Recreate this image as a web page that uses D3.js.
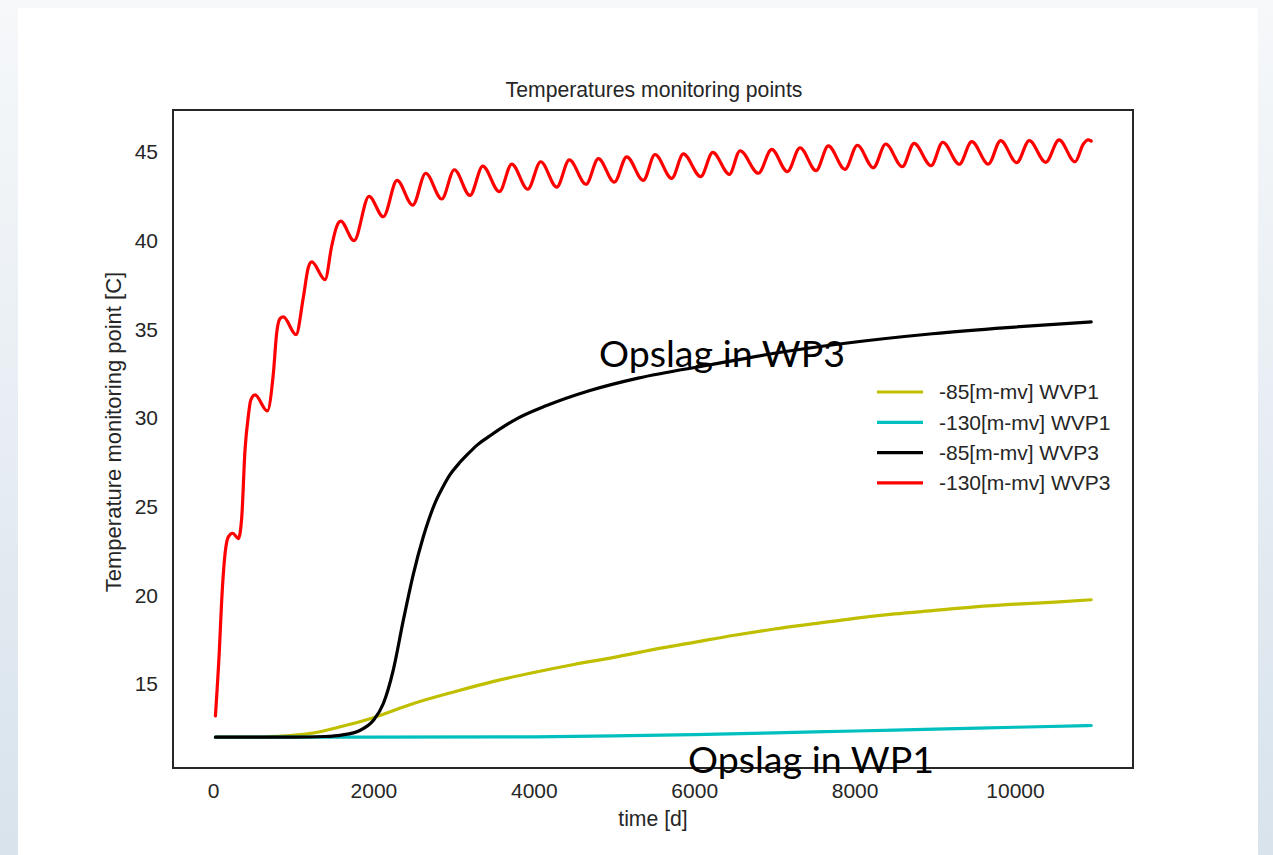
<!DOCTYPE html>
<html>
  <head>
    <title>Temperatures monitoring points</title>
    <style type="text/css">
      html, body {
        margin: 0;
        padding: 0;
      }
      svg text {
        font-family: "Liberation Sans", Arial, sans-serif;
        fill: #262626;
      }
      .tick text {
        font-size: 21px;
      }
      .series {
        fill: none;
        stroke-width: 3.2;
        stroke-linejoin: round;
        stroke-linecap: round;
      }
      .note {
        font-family: Lato, "Open Sans", sans-serif;
        font-size: 36px;
        fill: #000;
      }
    </style>
  </head>
  <body>
    <svg id="screen" width="1273" height="855" viewBox="0 0 1273 855">
      <defs>
        <linearGradient id="bg" x1="0" y1="0" x2="0" y2="1">
          <stop offset="0" stop-color="#f6f8fa" />
          <stop offset="1" stop-color="#d8e3ec" />
        </linearGradient>
      </defs>
      <rect width="1273" height="855" fill="url(#bg)" />
      <rect x="18" y="8" width="1240" height="847" fill="#fff" />
    </svg>

    <script type="text/javascript" src="https://d3js.org/d3.v7.min.js"></script>
    <script type="text/javascript">

    // legend order, matplotlib short colours y, c, k, r
    var seriesNames  = ['-85[m-mv] WVP1', '-130[m-mv] WVP1', '-85[m-mv] WVP3', '-130[m-mv] WVP3'];
    var seriesColors = ['#bfbf00', '#00bfbf', '#000000', '#ff0000'];

    var xTicks = [0, 2000, 4000, 6000, 8000, 10000];
    var yTicks = [15, 20, 25, 30, 35, 40, 45];

    // [day, temperature]
    var wvp1_85 = [[30,12.0],[500,12.0],[800,12.05],[1200,12.2],[1600,12.6],[2000,13.1],[2500,13.9],
                   [3000,14.55],[3500,15.15],[4000,15.65],[4500,16.1],[5000,16.5],[5500,16.95],
                   [6000,17.35],[6500,17.75],[7000,18.1],[7500,18.4],[8000,18.7],[8500,18.95],
                   [9000,19.15],[9500,19.35],[10000,19.5],[10500,19.62],[10950,19.75]];

    var wvp1_130 = [[30,12.0],[2000,12.0],[4000,12.02],[5000,12.07],[6000,12.14],[7000,12.24],
                    [8000,12.35],[9000,12.45],[10000,12.56],[10950,12.66]];

    var wvp3_85 = [[30,12.0],[1000,12.0],[1400,12.04],[1600,12.12],[1830,12.38],[2000,12.95],
                   [2124,13.9],[2248,15.8],[2373,18.6],[2498,21.2],[2622,23.3],[2768,25.2],
                   [2860,26.05],[2955,26.8],[3060,27.4],[3163,27.9],[3300,28.5],[3454,29.0],
                   [3786,29.95],[4160,30.7],[4700,31.55],[5300,32.25],[6200,33.0],[7000,33.65],
                   [7860,34.2],[8970,34.75],[9900,35.1],[10950,35.42]];

    var wvp3_130 = [[30,13.2],[79,16.9],[108,19.7],[150,22.35],[191,23.3],[245,23.5],[316,23.2],
                    [358,24.4],[399,28.2],[440,30.1],[470,31.0],[524,31.3],[677,30.4],[752,32.5],
                    [794,34.8],[835,35.6],[877,35.7],[1035,34.7],[1126,36.8],[1189,38.5],[1231,38.8],
                    [1397,37.8],[1480,39.7],[1542,40.8],[1592,41.1],[1758,40.0],[1945,42.5],
                    [2123,41.35],[2295,43.4],[2490,42.0],[2652,43.8],[2852,42.35],[3009,44.0],
                    [3204,42.55],[3363,44.2],[3570,42.76],[3725,44.32],[3924,42.9],[4086,44.45],
                    [4286,43.02],[4443,44.55],[4651,43.18],[4805,44.63],[5004,43.3],[5158,44.73],
                    [5365,43.4],[5511,44.86],[5719,43.51],[5864,44.89],[6081,43.61],[6231,44.98],
                    [6438,43.74],[6571,45.07],[6800,43.8],[6966,45.15],[7161,43.89],[7319,45.24],
                    [7519,43.95],[7672,45.34],[7880,44.02],[8034,45.38],[8233,44.11],[8388,45.45],
                    [8595,44.17],[8741,45.49],[8953,44.23],[9099,45.55],[9305,44.31],[9460,45.58],
                    [9667,44.32],[9821,45.64],[10021,44.4],[10178,45.64],[10383,44.42],[10549,45.68],
                    [10748,44.45],[10852,45.45],[10910,45.68],[10950,45.62]];

    var seriesData = [wvp1_85, wvp1_130, wvp3_85, wvp3_130];

    var plot = { left: 173, top: 110, right: 1133, bottom: 768 };

    var x = d3.scaleLinear().domain([-499, 11471]).range([plot.left, plot.right]),
        y = d3.scaleLinear().domain([10.263, 47.368]).range([plot.bottom, plot.top]);

    var screen = d3.select('#screen');

    // axes, seaborn "white" style: no tick marks, no grid
    screen.append('g')
          .attr('transform', 'translate(0,' + plot.bottom + ')')
          .call(d3.axisBottom(x).tickValues(xTicks).tickFormat(d3.format('d')).tickSize(0).tickPadding(15))
          .call(function(g) { g.select('.domain').remove(); });

    screen.append('g')
          .attr('transform', 'translate(' + plot.left + ',0)')
          .call(d3.axisLeft(y).tickValues(yTicks).tickSize(0).tickPadding(15))
          .call(function(g) { g.select('.domain').remove(); });

    screen.selectAll('.tick text')
          .attr('fill', '#262626')
          .style('font-family', '"Liberation Sans", Arial, sans-serif');

    var line = d3.line()
                 .x(function(d) { return x(d[0]); })
                 .y(function(d) { return y(d[1]); })
                 .curve(d3.curveMonotoneX);

    screen.selectAll('.series')
          .data(seriesData)
          .enter()
          .append('path')
          .attr('class', 'series')
          .attr('stroke', function(d, i) { return seriesColors[i]; })
          .attr('d', line);

    // frame
    screen.append('rect')
          .attr('x', plot.left)
          .attr('y', plot.top)
          .attr('width', plot.right - plot.left)
          .attr('height', plot.bottom - plot.top)
          .attr('fill', 'none')
          .attr('stroke', '#262626')
          .attr('stroke-width', 2);

    screen.append('text')
          .attr('x', (plot.left + plot.right) / 2 + 1)
          .attr('y', 97)
          .attr('text-anchor', 'middle')
          .style('font-size', '21.2px')
          .text('Temperatures monitoring points');

    screen.append('text')
          .attr('x', (plot.left + plot.right) / 2)
          .attr('y', 826)
          .attr('text-anchor', 'middle')
          .style('font-size', '21.2px')
          .text('time [d]');

    screen.append('text')
          .attr('transform', 'translate(121,432) rotate(-90)')
          .attr('text-anchor', 'middle')
          .style('font-size', '22px')
          .text('Temperature monitoring point [C]');

    // legend
    var legend = screen.append('g').attr('transform', 'translate(877,392)');

    var item = legend.selectAll('g')
                     .data(seriesNames)
                     .enter()
                     .append('g')
                     .attr('transform', function(d, i) { return 'translate(0,' + (i * 30.3) + ')'; });

    item.append('line')
        .attr('x1', 0).attr('x2', 46)
        .attr('stroke', function(d, i) { return seriesColors[i]; })
        .attr('stroke-width', 3.2);

    item.append('text')
        .attr('x', 62)
        .attr('dy', '0.35em')
        .style('font-size', '21px')
        .text(function(d) { return d; });

    // pasted annotations
    screen.append('text')
          .attr('class', 'note')
          .attr('x', 599).attr('y', 367)
          .attr('textLength', 246).attr('lengthAdjust', 'spacingAndGlyphs')
          .text('Opslag in WP3');

    screen.append('text')
          .attr('class', 'note')
          .attr('x', 688).attr('y', 773)
          .attr('textLength', 246).attr('lengthAdjust', 'spacingAndGlyphs')
          .text('Opslag in WP1');

    </script>
  </body>
</html>
